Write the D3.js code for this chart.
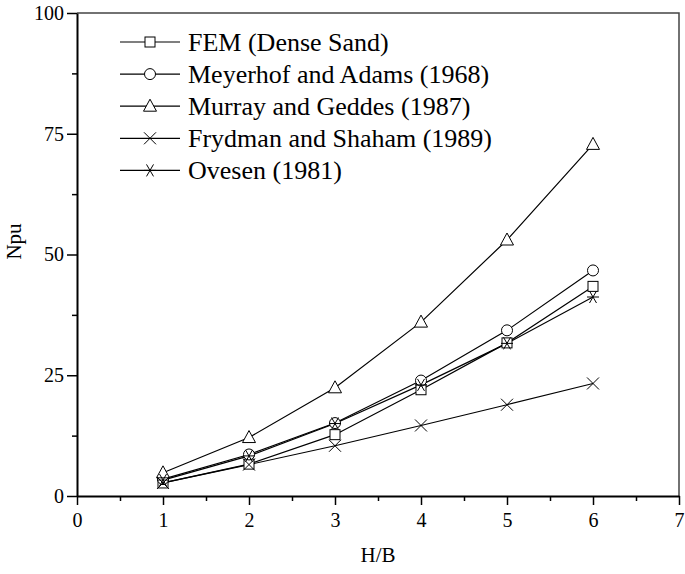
<!DOCTYPE html>
<html>
<head>
<meta charset="utf-8">
<script src="https://cdn.jsdelivr.net/npm/d3@7"></script>
<style>
  body { margin: 0; background: #fff; }
  svg text { font-family: "Liberation Serif", "Times New Roman", Times, "DejaVu Serif", serif; fill: #000; }
</style>
</head>
<body>
<div id="chart-area"></div>
<script>
// data
var hb = [1, 2, 3, 4, 5, 6];
var fem = [2.7, 6.6, 12.7, 22.0, 31.7, 43.4];
var meyerhof = [3.5, 8.6, 15.1, 23.9, 34.3, 46.7];
var murray = [4.8, 12.1, 22.4, 36.0, 53.0, 72.8];
var frydman = [2.7, 6.5, 10.4, 14.6, 18.9, 23.3];
var ovesen = [3.3, 8.3, 15.0, 23.0, 31.6, 41.2];
var seriesNames = ["FEM (Dense Sand)", "Meyerhof and Adams (1968)", "Murray and Geddes (1987)",
    "Frydman and Shaham (1989)", "Ovesen (1981)"];
var seriesMarkers = ["square", "circle", "triangle", "cross", "star"];
var xTicks = [0, 1, 2, 3, 4, 5, 6, 7];
var yTicks = [0, 25, 50, 75, 100];

var FONT = "'Liberation Serif', 'Times New Roman', Times, 'DejaVu Serif', serif";

var series = [fem, meyerhof, murray, frydman, ovesen].map(function(vals, i) {
    return { name: seriesNames[i], marker: seriesMarkers[i],
        points: vals.map(function(v, j) { return { x: hb[j], y: v }; }) };
});

var margin = { left: 77, right: 6, top: 13, bottom: 78 };
var width = 685 - margin.left - margin.right,
    height = 574 - margin.top - margin.bottom;

var svg = d3.select("#chart-area")
    .append("svg")
        .attr("width", 685)
        .attr("height", 574);
var g = svg.append("g")
        .attr("transform", "translate(" + margin.left + "," + margin.top + ")");

var x = d3.scaleLinear().domain([0, 7]).range([0, width]);
var y = d3.scaleLinear().domain([0, 100]).range([height, 0]);

// frame (top / right)
g.append("path")
    .attr("d", "M0,0H" + width + "V" + height)
    .attr("fill", "none")
    .attr("stroke", "#444")
    .attr("stroke-width", 1.5);

// minor ticks
g.append("g")
    .attr("transform", "translate(0," + height + ")")
    .call(d3.axisBottom(x).tickValues(d3.range(0.5, 7, 1)).tickSize(5).tickFormat(""))
    .call(function(s) { s.select(".domain").remove(); s.selectAll("line").attr("stroke-width", 1.5); });
g.append("g")
    .call(d3.axisLeft(y).tickValues(d3.range(12.5, 100, 25)).tickSize(5).tickFormat(""))
    .call(function(s) { s.select(".domain").remove(); s.selectAll("line").attr("stroke-width", 1.5); });

// X axis
var xAxisGroup = g.append("g")
    .attr("transform", "translate(0," + height + ")")
    .call(d3.axisBottom(x).tickValues(xTicks).tickFormat(d3.format("d"))
        .tickSize(9).tickPadding(8).tickSizeOuter(0));
// Y axis
var yAxisGroup = g.append("g")
    .call(d3.axisLeft(y).tickValues(yTicks).tickFormat(d3.format("d"))
        .tickSize(10).tickPadding(3).tickSizeOuter(0));

[xAxisGroup, yAxisGroup].forEach(function(a) {
    a.attr("font-family", FONT).attr("font-size", 20);
    a.select(".domain").attr("stroke-width", 2);
    a.selectAll(".tick line").attr("stroke-width", 1.5);
});

// X Label
g.append("text")
    .attr("x", width / 2)
    .attr("y", height + 66)
    .attr("font-family", FONT)
    .attr("font-size", "21px")
    .attr("text-anchor", "middle")
    .text("H/B");

// Y Label
g.append("text")
    .attr("transform", "rotate(-90)")
    .attr("x", -(height / 2) + 13)
    .attr("y", -56)
    .attr("font-family", FONT)
    .attr("font-size", "21px")
    .attr("text-anchor", "middle")
    .text("Npu");

function drawMarker(sel, type) {
    if (type === "square") {
        sel.append("rect").attr("x", -5).attr("y", -5).attr("width", 10).attr("height", 10)
            .attr("fill", "#fff").attr("stroke", "#000");
    } else if (type === "circle") {
        sel.append("circle").attr("r", 5.5).attr("fill", "#fff").attr("stroke", "#000");
    } else if (type === "triangle") {
        sel.append("path").attr("d", "M0,-7L6.5,5L-6.5,5Z").attr("fill", "#fff").attr("stroke", "#000");
    } else if (type === "cross") {
        sel.append("path").attr("d", "M-6,-6L6,6M-6,6L6,-6").attr("fill", "none").attr("stroke", "#000");
    } else if (type === "star") {
        sel.append("path").attr("d", "M-6,0H6M-3.5,-6L3.5,6M-3.5,6L3.5,-6").attr("fill", "none").attr("stroke", "#000");
    }
}

var line = d3.line().x(function(d) { return x(d.x); }).y(function(d) { return y(d.y); });

series.forEach(function(s) {
    g.append("path")
        .datum(s.points)
        .attr("d", line)
        .attr("fill", "none")
        .attr("stroke", "#000")
        .attr("stroke-width", 1.2);
});
series.forEach(function(s) {
    g.selectAll(null)
        .data(s.points)
        .enter()
        .append("g")
            .attr("transform", function(d) { return "translate(" + x(d.x) + "," + y(d.y) + ")"; })
            .each(function() { drawMarker(d3.select(this), s.marker); });
});

// legend
var legend = svg.append("g").attr("transform", "translate(120,42)");
series.forEach(function(s, i) {
    var row = legend.append("g").attr("transform", "translate(0," + (i * 32.1) + ")");
    row.append("line").attr("x1", 0).attr("x2", 60).attr("stroke", "#000").attr("stroke-width", 1.2);
    drawMarker(row.append("g").attr("transform", "translate(30,0)"), s.marker);
    row.append("text")
        .attr("x", 68)
        .attr("y", 9)
        .attr("font-family", FONT)
        .attr("font-size", "26px")
        .text(s.name);
});
</script>
</body>
</html>
